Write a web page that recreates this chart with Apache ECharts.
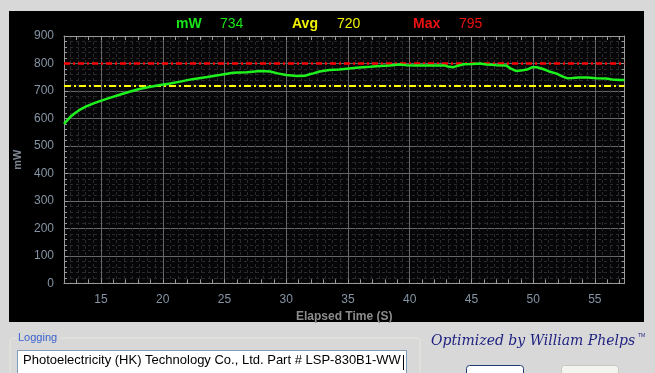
<!DOCTYPE html>
<html>
<head>
<meta charset="utf-8">
<script src="https://cdn.jsdelivr.net/npm/echarts@6/dist/echarts.min.js"></script>
<style>
html,body{margin:0;padding:0;background:#d8d8d8;}
#chart{width:655px;height:373px;}
</style>
</head>
<body>
<div id="chart"></div>
<script>
// ---- data ----
var timeS = [12.0, 12.5, 12.9, 13.3, 13.8, 14.4, 14.9, 15.7, 16.5, 17.3, 18.1, 19.0, 19.8, 20.6, 21.4, 22.4, 23.6, 24.6, 25.7, 26.8, 27.9, 28.7, 29.3, 30.0, 30.9, 31.5, 31.9, 32.2, 32.7, 33.5, 34.3, 35.1, 35.9, 36.8, 37.6, 38.4, 39.2, 39.7, 40.5, 41.4, 42.8, 43.1, 43.5, 43.9, 44.4, 45.1, 45.7, 46.2, 47.0, 47.8, 48.2, 48.6, 49.0, 49.5, 49.9, 50.3, 50.8, 51.3, 51.9, 52.4, 52.8, 53.2, 53.7, 54.4, 55.1, 55.9, 56.4, 57.0, 57.4];
var powerMW = [580, 605, 620, 632, 644, 655, 663, 675, 686, 697, 707, 715, 722, 727, 734, 743, 751, 758, 766, 768, 773, 771, 764, 758, 754, 755, 761, 764, 771, 776, 778, 782, 785, 788, 791, 793, 796, 794, 793, 793, 793, 789, 786, 792, 797, 798, 800, 796, 794, 793, 781, 773, 774, 778, 786, 786, 780, 771, 763, 752, 746, 747, 749, 749, 746, 745, 742, 740, 740];
var currentVal = 734;
var avgVal = 720;
var maxVal = 795;
var maxLineVal = 800;
var xTickLabels = [15, 20, 25, 30, 35, 40, 45, 50, 55];
var xMin = 12, xMax = 57.4;
var yMin = 0, yMax = 900, yStep = 100;
var loggingText = 'Photoelectricity (HK) Technology Co., Ltd. Part # LSP-830B1-WW';

// tick position helpers
var xUnitTicks = [];
for (var i = Math.ceil(xMin); i <= Math.floor(xMax); i++) xUnitTicks.push(i);
var xMinorGrid = [];
for (var k = -10; k <= 80; k++) {
  var v = 15 + k * 0.625;
  if (v > xMin && v < xMax && (v % 5) !== 0) xMinorGrid.push(v);
}

var points = timeS.map(function (t, i) { return [t, powerMW[i]]; });

var FONT = 'Liberation Sans, Arial, sans-serif';
var chart = echarts.init(document.getElementById('chart'), null, {renderer: 'canvas'});

function hiddenX(values, lineStyle, pos) {
  return {
    type: 'value', min: xMin, max: xMax, position: pos || 'bottom',
    axisLine: {show: false}, axisLabel: {show: false},
    axisTick: {show: false, customValues: values},
    splitLine: {show: true, lineStyle: lineStyle}
  };
}

chart.setOption({
  backgroundColor: '#d8d8d8',
  animation: false,
  grid: {
    left: 64, right: 30.5, top: 36, bottom: 89.7,
    show: true, backgroundColor: '#060608', borderWidth: 0
  },
  xAxis: [
    {
      type: 'value', min: xMin, max: xMax, position: 'bottom',
      name: 'Elapsed Time (S)', nameLocation: 'middle', nameGap: 25,
      nameTextStyle: {color: '#8c8c8c', fontSize: 12, fontWeight: 'bold', fontFamily: FONT},
      axisLine: {show: true, onZero: false, lineStyle: {color: '#9a9a9a', width: 1}},
      axisTick: {show: true, inside: true, length: 4, customValues: xUnitTicks, lineStyle: {color: '#9a9a9a'}},
      axisLabel: {show: true, customValues: xTickLabels, color: '#8594a4', fontSize: 12, fontFamily: FONT, margin: 10},
      splitLine: {show: false}
    },
    hiddenX(xMinorGrid, {color: '#2a2a2a', type: [3, 3], width: 1}),
    hiddenX(xTickLabels, {color: '#666666', width: 1}),
    {
      type: 'value', min: xMin, max: xMax, position: 'top',
      axisLine: {show: true, onZero: false, lineStyle: {color: '#9a9a9a', width: 1}},
      axisTick: {show: true, inside: true, length: 4, customValues: xUnitTicks, lineStyle: {color: '#9a9a9a'}},
      axisLabel: {show: false}, splitLine: {show: false}
    }
  ],
  yAxis: [
    {
      type: 'value', min: yMin, max: yMax, interval: yStep, position: 'left',
      name: 'mW', nameLocation: 'middle', nameGap: 36, nameRotate: 90,
      nameTextStyle: {color: '#7c8690', fontSize: 11, fontWeight: 'bold', fontFamily: FONT},
      axisLine: {show: true, onZero: false, lineStyle: {color: '#9a9a9a', width: 1}},
      axisTick: {show: true, inside: true, length: 4, lineStyle: {color: '#9a9a9a'}},
      minorTick: {show: true, splitNumber: 5, length: 3, lineStyle: {color: '#9a9a9a'}},
      axisLabel: {color: '#8594a4', fontSize: 12, fontFamily: FONT, margin: 10},
      splitLine: {show: true, lineStyle: {color: '#666666', width: 1}},
      minorSplitLine: {show: true, lineStyle: {color: '#2a2a2a', type: [3, 3], width: 1}}
    },
    {
      type: 'value', min: yMin, max: yMax, interval: yStep, position: 'right',
      axisLine: {show: true, onZero: false, lineStyle: {color: '#9a9a9a', width: 1}},
      axisTick: {show: true, inside: true, length: 4, lineStyle: {color: '#9a9a9a'}},
      minorTick: {show: true, splitNumber: 5, length: 3, lineStyle: {color: '#9a9a9a'}},
      axisLabel: {show: false}, splitLine: {show: false}
    }
  ],
  series: [
    {
      type: 'line', xAxisIndex: 0, yAxisIndex: 0,
      data: points, showSymbol: false, symbol: 'none', z: 5,
      lineStyle: {color: '#1ef21e', width: 2.5},
      markLine: {
        silent: true, symbol: 'none', label: {show: false},
        data: [
          {yAxis: maxLineVal, lineStyle: {color: '#ff0000', width: 2.5, type: [6, 3, 2, 3]}},
          {yAxis: avgVal, lineStyle: {color: '#ffff00', width: 2, type: [7, 3, 2, 3]}}
        ]
      }
    }
  ],
  graphic: [
    {type: 'rect', z: -10, silent: true, shape: {x: 9, y: 11, width: 635, height: 311}, style: {fill: '#000000'}},
    {type: 'text', left: 176, top: 17, style: {text: 'mW', fill: '#19e619', font: 'bold 14px ' + FONT}},
    {type: 'text', left: 220, top: 17, style: {text: String(currentVal), fill: '#19e619', font: '14px ' + FONT}},
    {type: 'text', left: 292, top: 17, style: {text: 'Avg', fill: '#f2f200', font: 'bold 14px ' + FONT}},
    {type: 'text', left: 337, top: 17, style: {text: String(avgVal), fill: '#f2f200', font: '14px ' + FONT}},
    {type: 'text', left: 413, top: 17, style: {text: 'Max', fill: '#ee1111', font: 'bold 14px ' + FONT}},
    {type: 'text', left: 459, top: 17, style: {text: String(maxVal), fill: '#ee1111', font: '14px ' + FONT}},
    // logging group
    {type: 'rect', silent: true, shape: {x: 10, y: 338, width: 410, height: 60, r: 3}, style: {fill: 'none', stroke: '#e6e6de', lineWidth: 1}},
    {type: 'rect', silent: true, shape: {x: 16, y: 332, width: 44, height: 12}, style: {fill: '#d8d8d8'}},
    {type: 'text', left: 18, top: 332, style: {text: 'Logging', fill: '#3a62cc', font: '11px ' + FONT}},
    {type: 'rect', silent: true, shape: {x: 17.5, y: 350.5, width: 389, height: 30}, style: {fill: '#ffffff', stroke: '#7f9db9', lineWidth: 1}},
    {type: 'text', left: 23, top: 354, style: {text: loggingText, fill: '#000000', font: '13px ' + FONT}},
    {type: 'rect', silent: true, shape: {x: 403, y: 355, width: 1, height: 15}, style: {fill: '#000000'}},
    // signature
    {type: 'text', left: 431, top: 334, style: {text: 'Optimized by William Phelps', fill: '#1c1f80', font: 'italic 14px DejaVu Serif, serif'}},
    {type: 'text', left: 638, top: 333, style: {text: 'TM', fill: '#1c1f80', font: '5px ' + FONT}},
    // buttons
    {type: 'rect', silent: true, shape: {x: 466.5, y: 365.5, width: 57, height: 14, r: 3}, style: {fill: '#ffffff', stroke: '#203a78', lineWidth: 1}},
    {type: 'rect', silent: true, shape: {x: 561.5, y: 365.5, width: 57, height: 14, r: 3}, style: {fill: '#f4f4ee', stroke: '#c8c8c0', lineWidth: 1}}
  ]
});
</script>
</body>
</html>
